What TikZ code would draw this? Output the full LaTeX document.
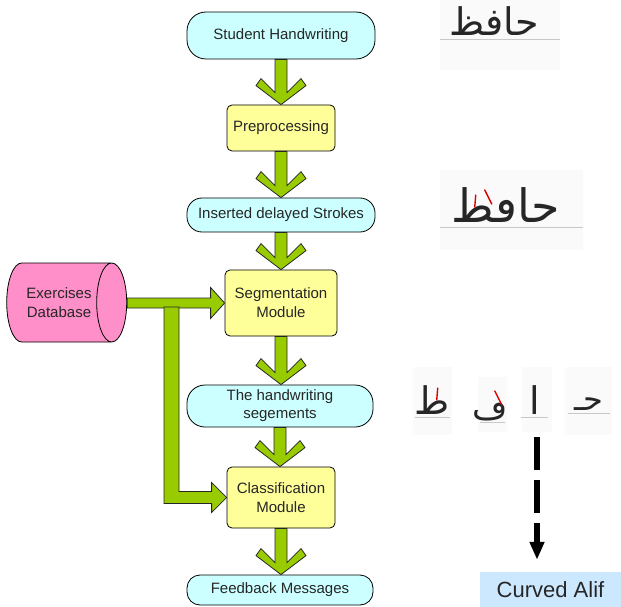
\documentclass[tikz,border=0pt]{standalone}
\usepackage{fontspec}
\setmainfont{Liberation Sans}
\newfontfamily\arabicfont[Script=Arabic]{DejaVu Sans}
\TeXXeTstate=1
\usetikzlibrary{calc,shapes.geometric,arrows.meta}
\definecolor{pillfill}{HTML}{CCFFFF}
\definecolor{boxfill}{HTML}{FFFF99}
\definecolor{dbfill}{HTML}{FF8FC8}
\definecolor{arrowgreen}{HTML}{99CC00}
\definecolor{labelblue}{HTML}{CCE8FF}
\definecolor{imgbg}{HTML}{FAFAFA}
\definecolor{baseline}{HTML}{C8C8C8}
\newcommand\vfatarrow[2]{%
  \draw[fatarrow] let \p1=(#1.south), \p2=(#2.north) in
    ({\x1-6pt},{\y1}) -- ({\x1-6pt},{\y2+12pt}) -- ({\x1-20pt},{\y2+26pt}) --
    ({\x1-25pt},{\y2+19pt}) -- ({\x1},{\y2}) -- ({\x1+25pt},{\y2+19pt}) --
    ({\x1+20pt},{\y2+26pt}) -- ({\x1+6pt},{\y2+12pt}) -- ({\x1+6pt},{\y1}) -- cycle;}
\begin{document}
\begin{tikzpicture}[x=1pt,y=-1pt,
  base/.style={draw=black, line width=0.8pt, text=black!85,
    font=\fontsize{15}{16}\selectfont, align=center, inner sep=0pt},
  pill/.style={base, fill=pillfill},
  modbox/.style={base, fill=boxfill, rounded corners=5pt},
  fatarrow/.style={draw=black!85, line width=0.8pt, fill=arrowgreen, line join=miter},
  arab/.style={font={\arabicfont\fontsize{30}{32}\selectfont}, text=black!85, inner sep=0pt, anchor=base},
  imgbox/.style={fill=imgbg, inner sep=0pt},
  baseln/.style={draw=baseline, line width=1pt},
  redstroke/.style={draw=red!85!black, line width=1.4pt, line cap=round},
  dasharrow/.style={line width=5.5pt, dash pattern=on 33pt off 10pt,
    -{Triangle[width=14pt,length=18pt]}},
  curvedlabel/.style={fill=labelblue, inner sep=0pt, text=black!85,
    font=\fontsize{22}{24}\selectfont}
]
\useasboundingbox (0,0) rectangle (621,607);

% flow nodes
\node[pill, minimum width=188pt, minimum height=47pt, rounded corners=19pt] (sh) at (281,35.5) {Student Handwriting};
\node[modbox, minimum width=108pt, minimum height=46pt] (pre) at (281,128) {Preprocessing};
\node[pill, minimum width=188pt, minimum height=34pt, rounded corners=15pt] (ids) at (281,215) {Inserted delayed Strokes};
\node[modbox, minimum width=112pt, minimum height=66pt] (seg) at (281,303) {Segmentation\\[3pt]Module};
\node[pill, minimum width=186pt, minimum height=42pt, rounded corners=18pt] (ths) at (280,406) {The handwriting\\[2pt]segements};
\node[modbox, minimum width=108pt, minimum height=61pt] (cls) at (281,497.5) {Classification\\[3pt]Module};
\node[pill, minimum width=186pt, minimum height=30pt, rounded corners=13pt] (fm) at (280,590) {Feedback Messages};

% database
\node[base, shape=cylinder, shape aspect=1, minimum width=79pt, minimum height=120pt,
  cylinder uses custom fill, cylinder body fill=dbfill, cylinder end fill=dbfill] (db) at (59,302.5) {Exercises\\[3pt]Database};

% vertical fat arrows
\vfatarrow{sh}{pre}
\vfatarrow{pre}{ids}
\vfatarrow{ids}{seg}
\vfatarrow{seg}{ths}
\vfatarrow{ths}{cls}
\vfatarrow{cls}{fm}

% database arrows
\draw[fatarrow] let \p1=(db.east), \p2=(seg.west) in
  ({\x1},{\y2+5pt}) -- ({\x2-14pt},{\y2+5pt}) -- ({\x2-14pt},{\y2+15.5pt}) -- ({\x2},{\y2}) --
  ({\x2-14pt},{\y2-15.5pt}) -- ({\x2-14pt},{\y2-5pt}) -- ({\x1},{\y2-5pt}) -- cycle;
\coordinate (br) at (171.5,307);
\draw[fatarrow] let \p1=(br), \p2=(cls.west) in
  ({\x1-7.5pt},{\y1}) -- ({\x1-7.5pt},{\y2-6pt}) -- ({\x2-15pt},{\y2-6pt}) -- ({\x2-15pt},{\y2-15pt}) --
  ({\x2},{\y2}) -- ({\x2-15pt},{\y2+15pt}) -- ({\x2-15pt},{\y2+6pt}) -- ({\x1+7.5pt},{\y2+6pt}) --
  ({\x1+7.5pt},{\y1}) -- cycle;

% handwriting 1
\node[imgbox, minimum width=120pt, minimum height=70pt] (img1) at (500,35) {};
\draw[baseln] (img1.west |- 0,40) -- (img1.east |- 0,40);
\node[arab, font={\arabicfont\fontsize{38}{40}\selectfont}] (hw1) at (494,36) {\beginR حافظ\endR};

% handwriting 2
\node[imgbox, minimum width=143pt, minimum height=80pt] (img2) at (511.5,210) {};
\draw[baseln] (img2.west |- 0,227) -- (img2.east |- 0,227);
\node[arab, font={\arabicfont\fontsize{46}{48}\selectfont}] (hw2) at (506,222) {\beginR حاڡط\endR};
\draw[redstroke] ($(hw2.base west)+(23,-15)$) -- ++(1,-12);
\draw[redstroke] ($(hw2.base west)+(40,-18)$) -- ++(-7,-14);

% segments
\node[imgbox, minimum width=39pt, minimum height=68pt] (s1bg) at (432.5,401) {};
\draw[baseln] (415,417) -- (450,417);
\node[arab, font={\arabicfont\fontsize{38}{40}\selectfont}] (s1) at (432.5,414) {\beginR ط\endR};
\draw[redstroke] ($(s1.base west)+(22,-14)$) -- ++(1,-12);

\node[imgbox, minimum width=29pt, minimum height=55pt] (s2bg) at (492.5,404.5) {};
\draw[baseln] (480,422) -- (505,422);
\node[arab, font={\arabicfont\fontsize{34}{36}\selectfont}] (s2) at (490,419) {\beginR ڡ\endR};
\draw[redstroke] ($(s2.base east)+(-6,-14)$) -- ++(-7,-14);

\node[imgbox, minimum width=30pt, minimum height=65pt] (s3bg) at (537,399.5) {};
\draw[baseln] (521,417) -- (548,417);
\node[arab, font={\arabicfont\fontsize{38}{40}\selectfont}] (s3) at (535,414) {\beginR ا\endR};

\node[imgbox, minimum width=47pt, minimum height=68pt] (s4bg) at (588.5,401) {};
\draw[baseln] (568,413) -- (610,413);
\node[arab, font={\arabicfont\fontsize{32}{34}\selectfont}] (s4) at (589,410) {\beginR حـ\endR};

% curved alif
\node[curvedlabel, minimum width=141pt, minimum height=35pt] (curved) at (550.5,589.5) {Curved Alif};
\draw[dasharrow, shorten <=5pt, shorten >=12pt] (s3bg.south) -- (s3bg.south |- curved.north);
\end{tikzpicture}
\end{document}
